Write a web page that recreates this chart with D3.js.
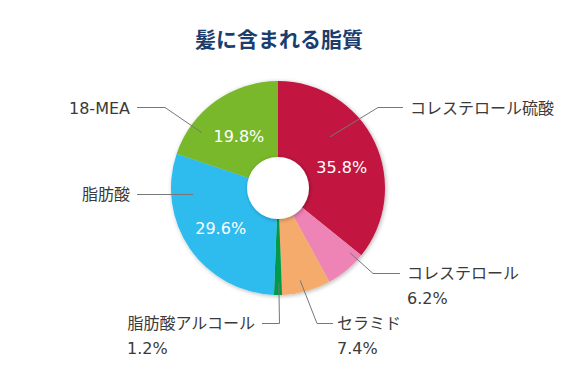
<!DOCTYPE html>
<html>
<head>
<meta charset="utf-8">
<script src="https://cdn.jsdelivr.net/npm/d3@7"></script>
<style>
  body { margin: 0; background: #fff; }
  text { font-family: "DejaVu Sans", "Noto Sans CJK JP", sans-serif; }
</style>
</head>
<body>
<svg id="chart" width="579" height="382"></svg>
<script>
// data
var labels = ["コレステロール硫酸", "コレステロール", "セラミド", "脂肪酸アルコール", "脂肪酸", "18-MEA"];
var values = [35.8, 6.2, 7.4, 1.2, 29.6, 19.8];
var colors = ["#c2143f", "#ee83b5", "#f5ab6c", "#009a4a", "#2ebcef", "#79b82b"];
var title = "髪に含まれる脂質";

// layout of the callouts: start angle (deg from top) / radius, elbow and label anchor
// pct: angle / radius of the percentage written inside the slice (null = written under the label)
var callouts = [
  { ang: 45.5, r: 73, elbow: [378, 107.5], end: 403, tx: 410, ty: 108, anchor: "start", pct: [72, 67] },
  { ang: 132, r: 97, elbow: [373, 273.5], end: 400, tx: 407, ty: 273, anchor: "start", pct: null },
  { ang: 166.5, r: 95, elbow: [317, 323.5], end: 333, tx: 337, ty: 323, anchor: "start", pct: null },
  { ang: 179.5, r: 95, elbow: [279.5, 323.5], end: 262, tx: 255, ty: 323, anchor: "end", pct: null },
  { ang: 266, r: 85, elbow: null, end: 137, tx: 130, ty: 194, anchor: "end", pct: [235, 70] },
  { ang: 306, r: 94, elbow: [165, 107.5], end: 137, tx: 130, ty: 108, anchor: "end", pct: [323, 65] }
];

var svg = d3.select("#chart");
var cx = 278, cy = 188, outerR = 107, holeR = 31;

var defs = svg.append("defs");
var f = defs.append("filter").attr("id", "shadow")
  .attr("x", "-20%").attr("y", "-20%").attr("width", "140%").attr("height", "140%");
f.append("feDropShadow").attr("dx", 1).attr("dy", 1).attr("stdDeviation", 2)
  .attr("flood-color", "#000").attr("flood-opacity", 0.3);

svg.append("text")
  .attr("x", 279).attr("y", 38)
  .attr("text-anchor", "middle")
  .attr("dominant-baseline", "central")
  .style("font-family", "'Noto Sans CJK JP', sans-serif")
  .style("font-weight", 700)
  .style("font-size", "21px")
  .style("fill", "#1b3d6e")
  .text(title);

var pie = d3.pie().sort(null).value(d => d);
var arcs = pie(values);
var arc = d3.arc().innerRadius(0).outerRadius(outerR);

var g = svg.append("g").attr("transform", `translate(${cx},${cy})`);

g.append("g").attr("filter", "url(#shadow)")
  .selectAll("path")
  .data(arcs)
  .join("path")
  .attr("d", arc)
  .attr("fill", (d, i) => colors[i]);

g.append("circle")
  .attr("r", holeR)
  .attr("fill", "#fff")
  .attr("filter", "url(#shadow)");

function polar(deg, r) {
  var a = deg * Math.PI / 180;
  return [r * Math.sin(a), -r * Math.cos(a)];
}

// percentages for the big slices
arcs.forEach(function (d, i) {
  var c = callouts[i];
  if (!c.pct) return;
  g.append("text")
    .attr("transform", `translate(${polar(c.pct[0], c.pct[1])})`)
    .attr("text-anchor", "middle")
    .attr("dominant-baseline", "central")
    .style("font-size", "16px")
    .style("fill", "#fff")
    .text(d.value.toFixed(1) + "%");
});

// leader lines
var line = d3.line();
callouts.forEach(function (c, i) {
  var s = polar(c.ang, c.r);
  var sx = cx + s[0], sy = cy + s[1];
  var pts;
  if (c.elbow) {
    pts = [[sx, sy], c.elbow, [c.end, c.elbow[1]]];
  } else {
    pts = [[sx, c.ty + 0.5], [c.end, c.ty + 0.5]];
  }
  svg.append("path")
    .attr("d", line(pts))
    .attr("fill", "none")
    .attr("stroke", "#777")
    .attr("stroke-width", 1);

  svg.append("text")
    .attr("x", c.tx).attr("y", c.ty)
    .attr("text-anchor", c.anchor)
    .attr("dominant-baseline", "central")
    .style("font-size", "16px")
    .style("fill", "#3a3a3a")
    .text(labels[i]);

  if (!c.pct) {
    svg.append("text")
      .attr("x", c.anchor === "start" ? c.tx : 127)
      .attr("y", c.ty + 25)
      .attr("dominant-baseline", "central")
      .style("font-size", "16px")
      .style("fill", "#3a3a3a")
      .text(values[i].toFixed(1) + "%");
  }
});
</script>
</body>
</html>
